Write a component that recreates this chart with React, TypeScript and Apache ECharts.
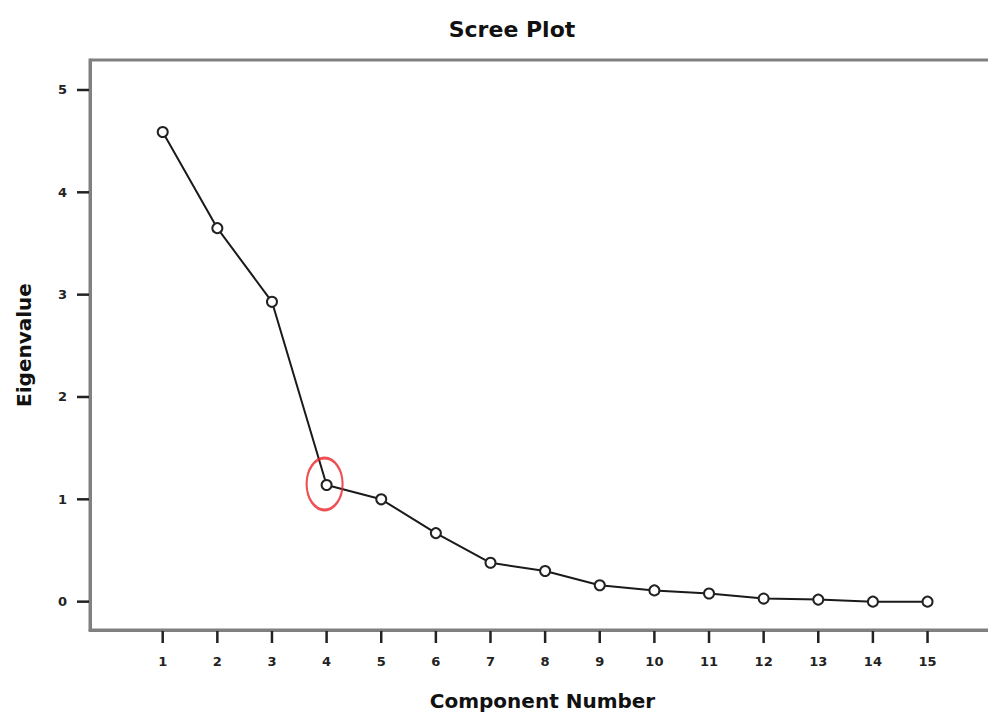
import React, { useEffect, useRef } from "react";
import * as echarts from "echarts";

const components = [1, 2, 3, 4, 5, 6, 7, 8, 9, 10, 11, 12, 13, 14, 15];
const eigenvalues = [4.59, 3.65, 2.93, 1.14, 1.0, 0.67, 0.38, 0.3, 0.16, 0.11, 0.08, 0.03, 0.02, 0.0, 0.0];
const yTicks = [0, 1, 2, 3, 4, 5];
const highlightIndex = 3;

const X_MIN = -0.331;
const X_MAX = 16.235;
const Y_MIN = -0.277;
const Y_MAX = 5.293;

const FONT = "DejaVu Sans";

export default function App() {
  const ref = useRef<HTMLDivElement>(null);
  useEffect(() => {
    if (!ref.current) return;
    const chart = echarts.init(ref.current, null, { renderer: "svg" });
    const lineData = components.map((c, i) => [c, eigenvalues[i]]);
    const axisLine = { show: true, onZero: false, lineStyle: { color: "#808080", width: 3 } };
    chart.setOption({
      animation: false,
      backgroundColor: "#ffffff",
      title: {
        text: "Scree Plot",
        left: 507,
        top: 13,
        textAlign: "center",
        textStyle: { fontFamily: FONT, fontWeight: "bold", fontSize: 22, color: "#111" },
      },
      grid: {
        left: 90,
        top: 60,
        right: 5,
        bottom: 87,
        show: true,
        borderColor: "#808080",
        borderWidth: 3,
        backgroundColor: "transparent",
      },
      xAxis: {
        type: "value",
        min: X_MIN,
        max: X_MAX,
        name: "Component Number",
        nameLocation: "middle",
        nameGap: 61,
        nameTextStyle: { fontFamily: FONT, fontWeight: "bold", fontSize: 20, color: "#111" },
        axisLine,
        splitLine: { show: false },
        axisTick: { show: false },
        axisLabel: {
          customValues: components,
          margin: 25,
          fontFamily: FONT,
          fontWeight: "bold",
          fontSize: 13,
          color: "#222",
        },
      },
      yAxis: {
        type: "value",
        min: Y_MIN,
        max: Y_MAX,
        name: "Eigenvalue",
        nameLocation: "middle",
        nameGap: 56,
        nameRotate: 90,
        nameTextStyle: { fontFamily: FONT, fontWeight: "bold", fontSize: 20, color: "#111" },
        axisLine,
        splitLine: { show: false },
        axisTick: { show: false },
        axisLabel: {
          customValues: yTicks,
          margin: 23,
          fontFamily: FONT,
          fontWeight: "bold",
          fontSize: 13,
          color: "#222",
        },
      },
      series: [
        {
          type: "line",
          data: lineData,
          symbol: "circle",
          symbolSize: 10,
          lineStyle: { color: "#1a1a1a", width: 2 },
          itemStyle: { color: "#ffffff", borderColor: "#222", borderWidth: 2 },
          z: 3,
        },
        {
          type: "scatter",
          data: [lineData[highlightIndex]],
          symbol: "path://M0,50 A50,50 0 1 1 100,50 A50,50 0 1 1 0,50 Z",
          symbolSize: [36, 52],
          symbolOffset: [-2, -1],
          itemStyle: { color: "transparent", borderColor: "#e8262a", borderWidth: 2.5 },
          z: 4,
          silent: true,
        },
      ],
    });

    const tickFill = { fill: "#222222" };
    const elements: any[] = [];
    components.forEach((c) => {
      const p = chart.convertToPixel({ gridIndex: 0 }, [c, Y_MIN]) as number[];
      elements.push({
        type: "rect",
        silent: true,
        z: 100,
        shape: { x: p[0] - 1.25, y: p[1] + 1, width: 2.5, height: 12 },
        style: tickFill,
      });
    });
    yTicks.forEach((v) => {
      const p = chart.convertToPixel({ gridIndex: 0 }, [X_MIN, v]) as number[];
      elements.push({
        type: "rect",
        silent: true,
        z: 100,
        shape: { x: p[0] - 13, y: p[1] - 1.25, width: 12, height: 2.5 },
        style: tickFill,
      });
    });
    chart.setOption({ graphic: { elements } });

    return () => chart.dispose();
  }, []);
  return (
    <div
      ref={ref}
      style={{ position: "fixed", left: 0, top: 0, width: 1000, height: 717, background: "#fff" }}
    />
  );
}
